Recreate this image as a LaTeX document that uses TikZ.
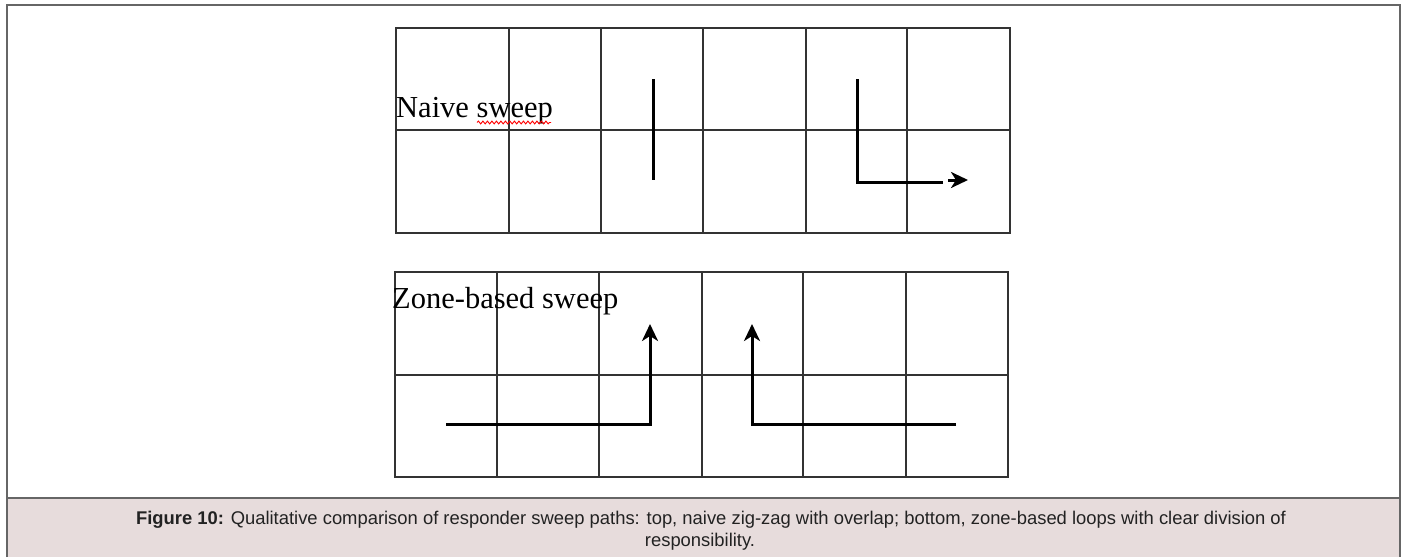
\documentclass[tikz,border=0pt]{standalone}
\usepackage{fontspec}
\setmainfont{Liberation Serif}
\newfontfamily\capfont{Liberation Sans}
\usetikzlibrary{arrows.meta,decorations.pathmorphing}
\definecolor{gridc}{HTML}{333333}
\definecolor{framec}{HTML}{666666}
\definecolor{capbg}{HTML}{E7DCDC}
\definecolor{captext}{HTML}{222222}
\tikzset{
  gridline/.style={draw=gridc,line width=1.5pt},
  sweeppath/.style={draw=black,line width=3pt},
  arrowtip/.style={-{Stealth[length=17pt,width=16pt,inset=5pt]}},
  lbl/.style={font=\fontsize{30.5}{36}\selectfont,inner sep=0pt,anchor=base west},
  captxt/.style={font=\capfont\fontsize{18.4}{22}\selectfont,text=captext,inner sep=0pt,anchor=base}
}
\begin{document}
\begin{tikzpicture}[x=1pt,y=-1pt]
\useasboundingbox (0,0) rectangle (1404,557);
% caption background
\fill[capbg] (7,498) rectangle (1400,557);
% frame
\draw[framec,line width=2.2pt] (7,557) -- (7,5) -- (1400,5) -- (1400,557);
\draw[framec,line width=2.2pt] (7,498) -- (1400,498);
% top grid
\draw[gridline] (396,28) rectangle (1010,233);
\draw[gridline] (396,130) -- (1010,130);
\foreach \x in {509,601,703,806,907} \draw[gridline] (\x,28) -- (\x,233);
% bottom grid
\draw[gridline] (395,272) rectangle (1008,477);
\draw[gridline] (395,375) -- (1008,375);
\foreach \x in {497,599,702,803,906} \draw[gridline] (\x,272) -- (\x,477);
% labels
\node[lbl] (naive) at (396,117) {Naive sweep};
\draw[red,line width=0.9pt,decorate,decoration={snake,amplitude=1.4pt,segment length=4.5pt}] (477,122.5) -- (551,122.5);
\node[lbl] (zone) at (392,308) {Zone-based sweep};
% top paths
\draw[sweeppath] (653,79) -- (653,180);
\draw[sweeppath] (857,79) -- (857,182) -- (943,182);
\coordinate (ta) at (948,180);
\coordinate (tb) at (968,180);
\draw[line width=3pt,arrowtip] (ta) -- (tb);
% bottom paths
\draw[sweeppath,arrowtip] (446,424) -- (650,424) -- (650,324);
\draw[sweeppath,arrowtip] (956,424) -- (752,424) -- (752,324);
% caption
\node[captxt] (cap1) at (711,524) {\textbf{Figure 10:} Qualitative comparison of responder sweep paths: top, naive zig-zag with overlap; bottom, zone-based loops with clear division of};
\node[captxt] (cap2) at (700,546) {responsibility.};
\end{tikzpicture}
\end{document}
